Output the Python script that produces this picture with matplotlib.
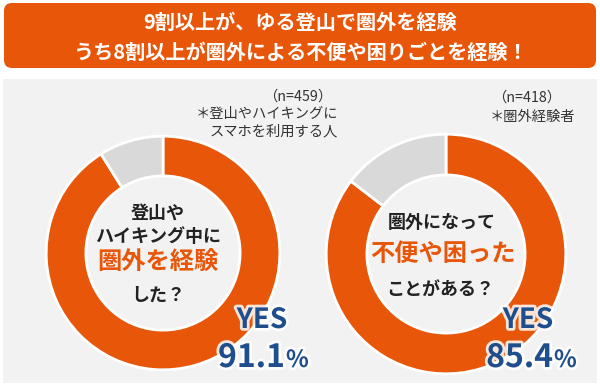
import matplotlib.pyplot as plt
import matplotlib.patheffects as pe
from matplotlib.patches import FancyBboxPatch, Rectangle

plt.rcParams['font.family'] = ['Noto Sans CJK JP', 'DejaVu Sans']

# ---------------------------------------------------------------------------
# Data
# ---------------------------------------------------------------------------
title_lines = ['9割以上が、ゆる登山で圏外を経験',
               'うち8割以上が圏外による不便や困りごとを経験！']
yes_share = [91.1, 85.4]
sample_sizes = [459, 418]
notes = [['＊登山やハイキングに', 'スマホを利用する人'], ['＊圏外経験者']]

orange = '#E8560A'
grey = '#D9D9D9'
navy = '#1F4E8C'
W, H = 600, 386


def fig_box(cx, cy, r):
    # pixel centre/radius -> figure fraction box
    return [(cx - r) / W, (H - cy - r) / H, 2 * r / W, 2 * r / H]


fig = plt.figure(figsize=(6, 3.86), dpi=100)

# background: banner + grey panel
bg = fig.add_axes([0, 0, 1, 1], zorder=0)
bg.set_xlim(0, W)
bg.set_ylim(H, 0)
bg.axis('off')
bg.add_patch(Rectangle((3, 79), 594, 304, facecolor='#F2F2F2', lw=0))
bg.add_patch(FancyBboxPatch((4, 3), 592, 65,
                            boxstyle='round,pad=0,rounding_size=8',
                            facecolor=orange, lw=0))

# donuts
centres = [(163, 253, 118), (446, 254, 121)]
for (cx, cy, r), val in zip(centres, yes_share):
    ax = fig.add_axes(fig_box(cx, cy, r), zorder=1)
    ax.pie([val, 100 - val], colors=[orange, grey], startangle=90,
           counterclock=False, radius=1,
           wedgeprops=dict(width=0.34, edgecolor='white', linewidth=2))
    ax.set_xlim(-1.01, 1.01)
    ax.set_ylim(-1.01, 1.01)
    ax.set_aspect('equal')
    ax.axis('off')

# text overlay
tx = fig.add_axes([0, 0, 1, 1], zorder=3)
tx.set_xlim(0, W)
tx.set_ylim(H, 0)
tx.axis('off')
tx.patch.set_alpha(0)

tx.text(300, 22, title_lines[0], color='white', fontsize=14.5,
        fontweight='bold', ha='center', va='center')
tx.text(300, 52, title_lines[1], color='white', fontsize=14.5,
        fontweight='bold', ha='center', va='center')

# sample notes
note_kw = dict(fontsize=10.3, color='#333333', ha='center', va='center')
tx.text(298, 97, '（n=%d）' % sample_sizes[0], **note_kw)
tx.text(267, 114, notes[0][0], **note_kw)
tx.text(274, 131, notes[0][1], **note_kw)
tx.text(527, 98, '（n=%d）' % sample_sizes[1], **note_kw)
tx.text(532, 117, notes[1][0], **note_kw)

# centre questions
q_kw = dict(ha='center', va='center', fontweight='bold', color='#222222')
tx.text(158, 213, '登山や', fontsize=13, **q_kw)
tx.text(158, 236, 'ハイキング中に', fontsize=13, **q_kw)
tx.text(158, 263, '圏外を経験', fontsize=17.5, ha='center', va='center',
        fontweight='bold', color=orange)
tx.text(158, 295, 'した？', fontsize=13, **q_kw)

tx.text(442, 222, '圏外になって', fontsize=13, **q_kw)
tx.text(443, 254, '不便や困った', fontsize=17.5, ha='center', va='center',
        fontweight='bold', color=orange)
tx.text(440, 289, 'ことがある？', fontsize=13, **q_kw)

# YES labels
glow = [pe.withStroke(linewidth=4, foreground='white', alpha=0.85)]
for xend, yes_x, val in [(285, 262, yes_share[0]), (553, 528, yes_share[1])]:
    tx.text(yes_x, 328, 'YES', fontsize=20, fontweight='bold', color=navy,
            ha='center', va='baseline', path_effects=glow)
    tx.text(xend, 367, '%.1f' % val, fontsize=23, fontweight='bold',
            color=navy, ha='right', va='baseline', path_effects=glow)
    tx.text(xend + 1, 367, '%', fontsize=17, fontweight='bold', color=navy,
            ha='left', va='baseline', path_effects=glow)

fig.savefig('out.png', dpi=100)
